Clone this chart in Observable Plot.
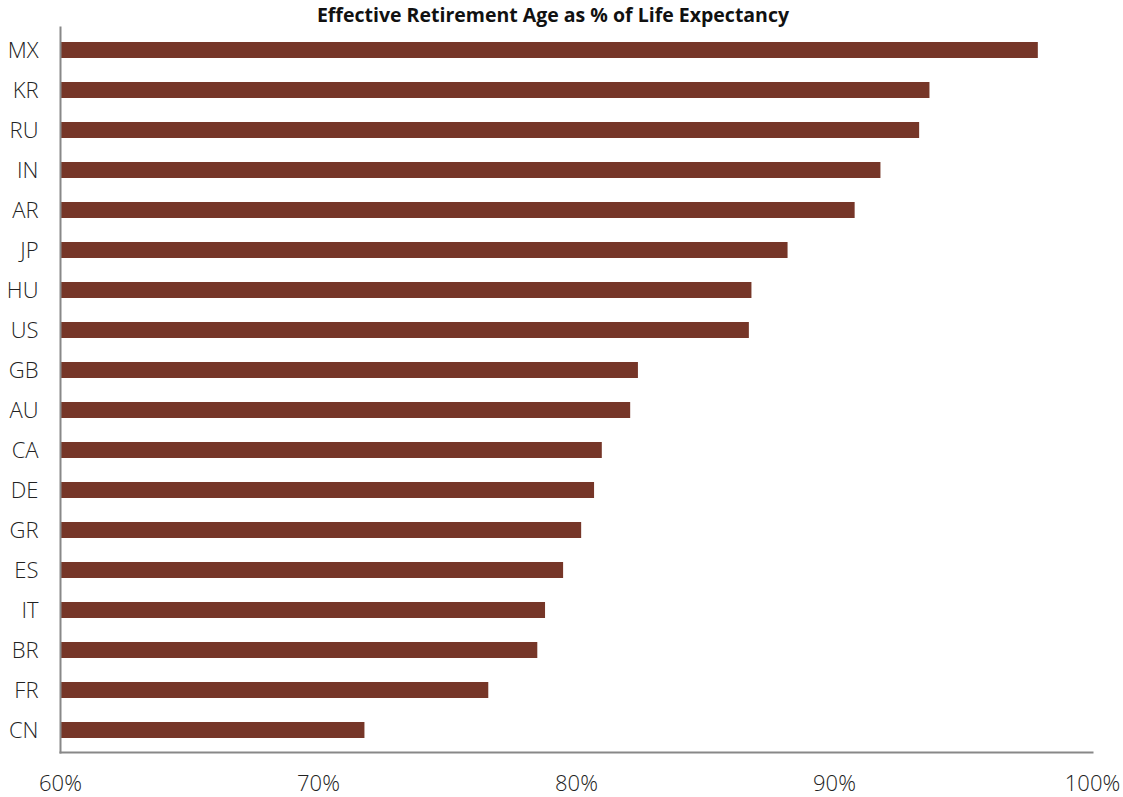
<!DOCTYPE html>
<html>
<head>
<meta charset="utf-8">
<script src="https://cdn.jsdelivr.net/npm/d3@7"></script>
<script src="https://cdn.jsdelivr.net/npm/@observablehq/plot@0.6"></script>
<style>
  html, body { margin: 0; padding: 0; background: #fff; }
  #title { width: 1106px; height: 24px; overflow: visible; text-align: center; font-family: "Open Sans", sans-serif; font-weight: 700; font-size: 19.5px; line-height: 20px; padding-top: 5px; box-sizing: border-box; color: #111; white-space: nowrap; }
  #chart svg { display: block; }
</style>
</head>
<body>
<div id="title">Effective Retirement Age as % of Life Expectancy</div>
<div id="chart"></div>
<script>
const countries = ["MX","KR","RU","IN","AR","JP","HU","US","GB","AU","CA","DE","GR","ES","IT","BR","FR","CN"];
const values = [0.979, 0.937, 0.933, 0.918, 0.908, 0.882, 0.868, 0.867, 0.824, 0.821, 0.810, 0.807, 0.802, 0.795, 0.788, 0.785, 0.766, 0.718];
const xTicks = [0.6, 0.7, 0.8, 0.9, 1.0];

const data = countries.map((c, i) => ({country: c, value: values[i]}));

const chart = Plot.plot({
  width: 1123,
  height: 773,
  marginTop: 3,
  marginBottom: 45,
  marginLeft: 60,
  marginRight: 31,
  style: {fontFamily: "'Open Sans', sans-serif", fontWeight: 300, fontSize: "22px", color: "#222", background: "#fff"},
  x: {domain: [0.6, 1.0], ticks: xTicks, tickFormat: d3.format(".0%"), label: null},
  y: {domain: countries, paddingInner: 0.6, paddingOuter: 0.3, label: null},
  marks: [
    Plot.barX(data, {x1: 0.6, x2: "value", y: "country", fill: "#763628"}),
    Plot.axisX({ticks: xTicks, tickFormat: d3.format(".0%"), tickSize: 0, tickPadding: 23, label: null, fontSize: 22, fill: "#222"}),
    Plot.axisY({tickSize: 0, tickPadding: 22, label: null, fontSize: 22, fill: "#222"}),
    Plot.frame({anchor: "left", stroke: "#888", strokeWidth: 2}),
    Plot.frame({anchor: "bottom", stroke: "#888", strokeWidth: 2})
  ]
});
document.getElementById("chart").appendChild(chart);
</script>
</body>
</html>
